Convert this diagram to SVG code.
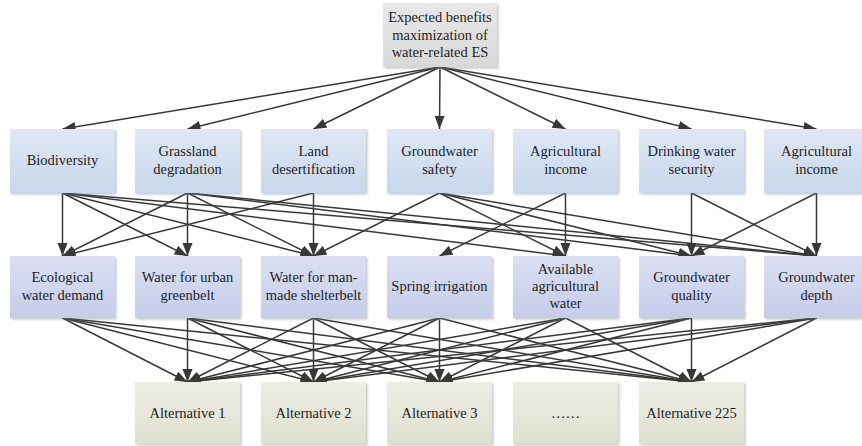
<svg xmlns="http://www.w3.org/2000/svg" width="862" height="446" viewBox="0 0 862 446">
  <style>
    .t { font-family: "Liberation Serif", "Tinos", "DejaVu Serif", serif; font-size: 14.5px; fill: #1e1e1e; text-anchor: middle; }
    .goal { fill: url(#gGoal); filter: url(#sh); }
    .crit { fill: url(#gCrit); filter: url(#sh); }
    .sub { fill: url(#gSub); filter: url(#sh); }
    .alt { fill: url(#gAlt); filter: url(#sh); }
    .e { stroke: #383838; stroke-width: 1.5; fill: none; marker-end: url(#ah); }
  </style>
  <defs>
    <linearGradient id="gGoal" x1="0" y1="0" x2="0" y2="1">
      <stop offset="0" stop-color="#e8e8e8"/>
      <stop offset="1" stop-color="#d9d9d9"/>
    </linearGradient>
    <linearGradient id="gCrit" x1="0" y1="0" x2="0" y2="1">
      <stop offset="0" stop-color="#dfe8f4"/>
      <stop offset="1" stop-color="#c8d7ec"/>
    </linearGradient>
    <linearGradient id="gSub" x1="0" y1="0" x2="0" y2="1">
      <stop offset="0" stop-color="#dadff2"/>
      <stop offset="1" stop-color="#c6cde9"/>
    </linearGradient>
    <linearGradient id="gAlt" x1="0" y1="0" x2="0" y2="1">
      <stop offset="0" stop-color="#eeede4"/>
      <stop offset="1" stop-color="#dfdfd0"/>
    </linearGradient>
    <filter id="sh" x="-10%" y="-10%" width="120%" height="125%">
      <feDropShadow dx="1.5" dy="1.5" stdDeviation="1" flood-color="#808080" flood-opacity="0.45"/>
    </filter>
    <marker id="ah" markerUnits="userSpaceOnUse" markerWidth="14" markerHeight="12" refX="13" refY="5" orient="auto">
      <path d="M0,0 L13,5 L0,10 Z" fill="#383838"/>
    </marker>
  </defs>

  <!-- connectors -->
  <g id="connectors">
    <!-- goal to criteria -->
    <line class="e" x1="440" y1="67" x2="62.5" y2="129"/>
    <line class="e" x1="440" y1="67" x2="187.5" y2="129"/>
    <line class="e" x1="440" y1="67" x2="313.5" y2="129"/>
    <line class="e" x1="440" y1="67" x2="439.5" y2="129"/>
    <line class="e" x1="440" y1="67" x2="565.5" y2="129"/>
    <line class="e" x1="440" y1="67" x2="691.5" y2="129"/>
    <line class="e" x1="440" y1="67" x2="816.5" y2="129"/>

    <!-- criteria to indicators -->
    <line class="e" x1="62.5" y1="193" x2="62.5" y2="256"/>
    <line class="e" x1="62.5" y1="193" x2="187.5" y2="256"/>
    <line class="e" x1="62.5" y1="193" x2="313.5" y2="256"/>
    <line class="e" x1="62.5" y1="193" x2="565.5" y2="256"/>
    <line class="e" x1="62.5" y1="193" x2="816.5" y2="256"/>

    <line class="e" x1="187.5" y1="193" x2="62.5" y2="256"/>
    <line class="e" x1="187.5" y1="193" x2="187.5" y2="256"/>
    <line class="e" x1="187.5" y1="193" x2="313.5" y2="256"/>
    <line class="e" x1="187.5" y1="193" x2="691.5" y2="256"/>
    <line class="e" x1="187.5" y1="193" x2="816.5" y2="256"/>

    <line class="e" x1="313.5" y1="193" x2="62.5" y2="256"/>
    <line class="e" x1="313.5" y1="193" x2="313.5" y2="256"/>

    <line class="e" x1="439.5" y1="193" x2="313.5" y2="256"/>
    <line class="e" x1="439.5" y1="193" x2="565.5" y2="256"/>
    <line class="e" x1="439.5" y1="193" x2="691.5" y2="256"/>
    <line class="e" x1="439.5" y1="193" x2="816.5" y2="256"/>

    <line class="e" x1="565.5" y1="193" x2="439.5" y2="256"/>
    <line class="e" x1="565.5" y1="193" x2="565.5" y2="256"/>

    <line class="e" x1="691.5" y1="193" x2="691.5" y2="256"/>
    <line class="e" x1="691.5" y1="193" x2="816.5" y2="256"/>

    <line class="e" x1="816.5" y1="193" x2="691.5" y2="256"/>
    <line class="e" x1="816.5" y1="193" x2="816.5" y2="256"/>

    <!-- indicators to alternatives -->
    <g id="toAlternatives">
      <line class="e" x1="62.5" y1="318" x2="187.5" y2="382"/>
      <line class="e" x1="62.5" y1="318" x2="313.5" y2="382"/>
      <line class="e" x1="62.5" y1="318" x2="439.5" y2="382"/>
      <line class="e" x1="62.5" y1="318" x2="691.5" y2="382"/>

      <line class="e" x1="187.5" y1="318" x2="187.5" y2="382"/>
      <line class="e" x1="187.5" y1="318" x2="313.5" y2="382"/>
      <line class="e" x1="187.5" y1="318" x2="439.5" y2="382"/>
      <line class="e" x1="187.5" y1="318" x2="691.5" y2="382"/>

      <line class="e" x1="313.5" y1="318" x2="187.5" y2="382"/>
      <line class="e" x1="313.5" y1="318" x2="313.5" y2="382"/>
      <line class="e" x1="313.5" y1="318" x2="439.5" y2="382"/>
      <line class="e" x1="313.5" y1="318" x2="691.5" y2="382"/>

      <line class="e" x1="439.5" y1="318" x2="187.5" y2="382"/>
      <line class="e" x1="439.5" y1="318" x2="313.5" y2="382"/>
      <line class="e" x1="439.5" y1="318" x2="439.5" y2="382"/>
      <line class="e" x1="439.5" y1="318" x2="691.5" y2="382"/>

      <line class="e" x1="565.5" y1="318" x2="187.5" y2="382"/>
      <line class="e" x1="565.5" y1="318" x2="313.5" y2="382"/>
      <line class="e" x1="565.5" y1="318" x2="439.5" y2="382"/>
      <line class="e" x1="565.5" y1="318" x2="691.5" y2="382"/>

      <line class="e" x1="691.5" y1="318" x2="187.5" y2="382"/>
      <line class="e" x1="691.5" y1="318" x2="313.5" y2="382"/>
      <line class="e" x1="691.5" y1="318" x2="439.5" y2="382"/>
      <line class="e" x1="691.5" y1="318" x2="691.5" y2="382"/>

      <line class="e" x1="816.5" y1="318" x2="187.5" y2="382"/>
      <line class="e" x1="816.5" y1="318" x2="313.5" y2="382"/>
      <line class="e" x1="816.5" y1="318" x2="439.5" y2="382"/>
      <line class="e" x1="816.5" y1="318" x2="691.5" y2="382"/>
    </g>
  </g>

  <!-- goal -->
  <g id="goal">
    <rect class="goal" x="383" y="3" width="114" height="64"/>
    <text class="t" x="440" y="22">Expected benefits</text>
    <text class="t" x="440" y="39.5">maximization of</text>
    <text class="t" x="440" y="57">water-related ES</text>
  </g>

  <!-- criteria -->
  <g id="biodiversity">
    <rect class="crit" x="10" y="129" width="105" height="64"/>
    <text class="t" x="62.5" y="165">Biodiversity</text>
  </g>
  <g id="grassland">
    <rect class="crit" x="135" y="129" width="105" height="64"/>
    <text class="t" x="187.5" y="156">Grassland</text>
    <text class="t" x="187.5" y="173.5">degradation</text>
  </g>
  <g id="desertification">
    <rect class="crit" x="261" y="129" width="105" height="64"/>
    <text class="t" x="313.5" y="156">Land</text>
    <text class="t" x="313.5" y="173.5">desertification</text>
  </g>
  <g id="gw-safety">
    <rect class="crit" x="387" y="129" width="105" height="64"/>
    <text class="t" x="439.5" y="156">Groundwater</text>
    <text class="t" x="439.5" y="173.5">safety</text>
  </g>
  <g id="agri-income-1">
    <rect class="crit" x="513" y="129" width="105" height="64"/>
    <text class="t" x="565.5" y="156">Agricultural</text>
    <text class="t" x="565.5" y="173.5">income</text>
  </g>
  <g id="drinking-water">
    <rect class="crit" x="639" y="129" width="105" height="64"/>
    <text class="t" x="691.5" y="156">Drinking water</text>
    <text class="t" x="691.5" y="173.5">security</text>
  </g>
  <g id="agri-income-2">
    <rect class="crit" x="764" y="129" width="105" height="64"/>
    <text class="t" x="816.5" y="156">Agricultural</text>
    <text class="t" x="816.5" y="173.5">income</text>
  </g>

  <!-- indicators -->
  <g id="eco-water">
    <rect class="sub" x="10" y="256" width="105" height="62"/>
    <text class="t" x="62.5" y="282">Ecological</text>
    <text class="t" x="62.5" y="299.5">water demand</text>
  </g>
  <g id="urban-greenbelt">
    <rect class="sub" x="135" y="256" width="105" height="62"/>
    <text class="t" x="187.5" y="282">Water for urban</text>
    <text class="t" x="187.5" y="299.5">greenbelt</text>
  </g>
  <g id="shelterbelt">
    <rect class="sub" x="261" y="256" width="105" height="62"/>
    <text class="t" x="313.5" y="282">Water for man-</text>
    <text class="t" x="313.5" y="299.5">made shelterbelt</text>
  </g>
  <g id="spring-irrigation">
    <rect class="sub" x="387" y="256" width="105" height="62"/>
    <text class="t" x="439.5" y="291">Spring irrigation</text>
  </g>
  <g id="agri-water">
    <rect class="sub" x="513" y="256" width="105" height="62"/>
    <text class="t" x="565.5" y="274">Available</text>
    <text class="t" x="565.5" y="291">agricultural</text>
    <text class="t" x="565.5" y="308">water</text>
  </g>
  <g id="gw-quality">
    <rect class="sub" x="639" y="256" width="105" height="62"/>
    <text class="t" x="691.5" y="282">Groundwater</text>
    <text class="t" x="691.5" y="299.5">quality</text>
  </g>
  <g id="gw-depth">
    <rect class="sub" x="764" y="256" width="105" height="62"/>
    <text class="t" x="816.5" y="282">Groundwater</text>
    <text class="t" x="816.5" y="299.5">depth</text>
  </g>

  <!-- alternatives -->
  <g id="alt-1">
    <rect class="alt" x="135" y="382" width="105" height="62"/>
    <text class="t" x="187.5" y="418">Alternative 1</text>
  </g>
  <g id="alt-2">
    <rect class="alt" x="261" y="382" width="105" height="62"/>
    <text class="t" x="313.5" y="418">Alternative 2</text>
  </g>
  <g id="alt-3">
    <rect class="alt" x="387" y="382" width="105" height="62"/>
    <text class="t" x="439.5" y="418">Alternative 3</text>
  </g>
  <g id="alt-more">
    <rect class="alt" x="513" y="382" width="105" height="62"/>
    <text class="t" x="565.5" y="418">……</text>
  </g>
  <g id="alt-225">
    <rect class="alt" x="639" y="382" width="105" height="62"/>
    <text class="t" x="691.5" y="418">Alternative 225</text>
  </g>
</svg>
